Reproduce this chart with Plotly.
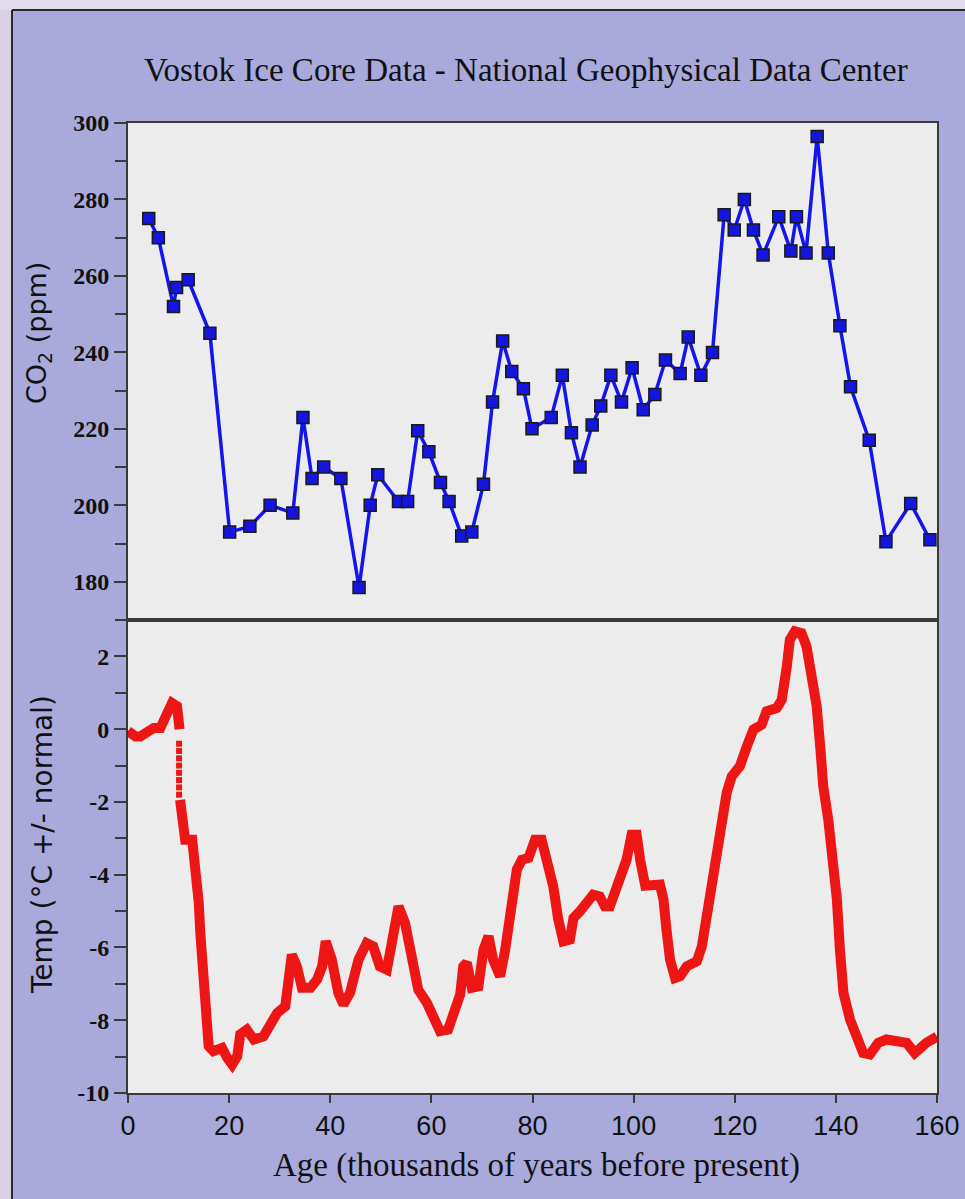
import plotly.graph_objects as go

# CO2 record (ppm) against age in thousands of years before present
co2_age = [4.1, 6.0, 9.0, 9.6, 11.9, 16.2, 20.1, 24.1, 28.1, 32.6, 34.6, 36.4, 38.7, 42.1, 45.7,
           47.9, 49.4, 53.5, 55.3, 57.3, 59.5, 61.8, 63.5, 66.0, 68.0, 70.3, 72.1, 74.1, 75.9, 78.2,
           79.9, 83.7, 85.9, 87.7, 89.4, 91.8, 93.5, 95.5, 97.6, 99.7, 101.9, 104.2, 106.3, 109.2,
           110.8, 113.3, 115.6, 117.9, 119.9, 121.9, 123.7, 125.6, 128.7, 131.1, 132.2, 134.1,
           136.3, 138.5, 140.8, 142.9, 146.6, 149.9, 154.8, 158.6]
co2_ppm = [275, 270, 252, 257, 259, 245, 193, 194.5, 200, 198, 223, 207, 210, 207, 178.5,
           200, 208, 201, 201, 219.5, 214, 206, 201, 192, 193, 205.5, 227, 243, 235, 230.5,
           220, 223, 234, 219, 210, 221, 226, 234, 227, 236, 225, 229, 238, 234.5,
           244, 234, 240, 276, 272, 280, 272, 265.5, 275.5, 266.5, 275.5, 266,
           296.5, 266, 247, 231, 217, 190.5, 200.5, 191]

# Temperature anomaly (deg C); None marks the break where the record is sparse
temp_age = [0, 1.5, 2.4, 3.8, 5.1, 6.4, 7.7, 8.7, 9.7, 10.2, None,
            10.3, 10.7, 11.3, 12.7, 13.3, 14.0, 14.3, 14.6, 15.0, 15.5, 15.95, 16.9, 18.6, 19.6,
            20.6, 21.6, 22.2, 23.5, 24.9, 26.8, 28.1, 29.5, 31.1, 31.8, 32.4, 33.4, 34.4, 36.1,
            37.4, 38.4, 39.1, 40.3, 41.6, 42.6, 43.9, 45.6, 47.2, 48.5, 49.8, 51.2, 52.5, 53.5,
            54.8, 56.1, 57.4, 59.1, 60.7, 61.7, 63.3, 64.7, 65.7, 66.3, 67.0, 68.0, 69.3, 70.3,
            71.3, 72.2, 73.6, 74.6, 75.5, 76.2, 76.9, 77.9, 79.2, 79.8, 80.5, 81.8, 82.8, 84.1,
            85.1, 86.1, 87.4, 88.1, 89.4, 90.7, 92.0, 93.3, 94.3, 95.3, 96.3, 97.6, 98.6, 99.6,
            100.6, 101.3, 102.3, 105.2, 105.9, 106.5, 107.2, 108.2, 109.2, 110.5, 112.5, 113.5,
            114.1, 115.1, 116.1, 116.8, 117.4, 118.4, 119.4, 121.0, 122.4, 123.7, 125.3, 126.3,
            128.3, 129.3, 130.3, 130.9, 131.9, 133.2, 134.2, 135.2, 136.2, 136.9, 137.5, 138.5,
            139.5, 140.2, 140.8, 141.5, 142.8, 144.1, 145.4, 146.7, 148.4, 150.0, 152.0, 154.0,
            155.6, 156.6, 157.9, 160.0]
temp_c = [-0.05, -0.2, -0.2, -0.06, 0.03, 0.03, 0.44, 0.72, 0.63, 0.0, None,
          -1.94, -2.76, -3.04, -3.04, -3.77, -4.78, -5.6, -6.33, -7.16, -8.16, -8.71, -8.85, -8.76, -9.03,
          -9.22, -8.99, -8.39, -8.26, -8.53, -8.44, -8.16, -7.8, -7.62, -6.88, -6.2, -6.52, -7.11, -7.11,
          -6.88, -6.52, -5.83, -6.33, -7.25, -7.57, -7.25, -6.33, -5.88, -5.97, -6.52, -6.61, -5.6, -4.87,
          -5.33, -6.33, -7.16, -7.52, -8.12, -8.3, -8.26, -7.66, -7.29, -6.52, -6.42, -7.11, -7.07, -6.06,
          -5.69, -6.33, -6.79, -6.06, -5.23, -4.5, -3.86, -3.59, -3.54, -3.31, -3.04, -3.04, -3.59, -4.32,
          -5.23, -5.83, -5.78, -5.19, -5.0, -4.78, -4.55, -4.6, -4.87, -4.87, -4.5, -4.05, -3.59, -2.9,
          -2.9, -3.6, -4.3, -4.27, -4.68, -5.51, -6.33, -6.84, -6.79, -6.52, -6.38, -5.97,
          -5.42, -4.68, -3.95, -3.13, -2.4, -1.75, -1.3, -1.02, -0.47, -0.01, 0.12, 0.49,
          0.58, 0.81, 1.73, 2.46, 2.69, 2.64, 2.27, 1.54, 0.63, -0.47, -1.57, -2.49,
          -3.49, -4.68, -6.06, -7.25, -7.98, -8.44, -8.9, -8.94, -8.62, -8.53, -8.58, -8.62,
          -8.9, -8.76, -8.62, -8.45]

# isolated samples on the rapid drop near 10 ka
gap_age = [10.1, 10.1, 10.1, 10.1, 10.1, 10.1, 10.1, 10.1]
gap_temp = [-0.4, -0.6, -0.8, -1.0, -1.2, -1.4, -1.6, -1.8]

x_ticks = [0, 20, 40, 60, 80, 100, 120, 140, 160]
co2_ticks = [180, 200, 220, 240, 260, 280, 300]
temp_ticks = [-10, -8, -6, -4, -2, 0, 2]
temp_tick_text = ["-10", "-8", "-6", "-4", "-2", "0", "2"]

FRAME = "#a9a9db"
PLOT_BG = "#ececec"
AXIS = "#3a3a3a"
SERIF = "Liberation Serif"
SANS = "DejaVu Sans"

fig = go.Figure()

fig.add_trace(go.Scatter(
    x=co2_age, y=co2_ppm, xaxis="x2", yaxis="y",
    mode="lines+markers",
    line=dict(color="#1414ee", width=3.5),
    marker=dict(symbol="square", size=12, color="#1515e0",
                line=dict(color="#1a1a1a", width=1.5)),
    showlegend=False,
))

fig.add_trace(go.Scatter(
    x=temp_age, y=temp_c, xaxis="x", yaxis="y2",
    mode="lines", connectgaps=False,
    line=dict(color="#ee1515", width=10),
    showlegend=False,
))

fig.add_trace(go.Scatter(
    x=gap_age, y=gap_temp, xaxis="x", yaxis="y2",
    mode="markers",
    marker=dict(symbol="square", size=6, color="#ee1515", line=dict(width=0)),
    showlegend=False,
))

split = 0.4876

common_axis = dict(showline=True, linecolor=AXIS, linewidth=2, mirror=True,
                   showgrid=False, zeroline=False, automargin=False)
ytick_font = dict(family=SERIF, size=24, color="#111", weight="bold")

fig.update_layout(
    width=965, height=1199,
    autosize=False,
    margin=dict(l=128, r=28, t=123, b=106, autoexpand=False),
    paper_bgcolor=FRAME,
    plot_bgcolor=PLOT_BG,
    xaxis=dict(**common_axis, range=[0, 160], anchor="y2", domain=[0, 1],
               tickmode="array", tickvals=x_ticks, ticks="outside", ticklen=8,
               tickwidth=2, tickcolor=AXIS,
               tickfont=dict(family="Liberation Sans", size=27, color="#111")),
    xaxis2=dict(**common_axis, range=[0, 160], anchor="y", matches="x",
                showticklabels=False, ticks=""),
    yaxis=dict(**common_axis, domain=[split, 1], range=[170, 300],
               tickmode="array", tickvals=co2_ticks,
               ticks="outside", ticklen=12, tickwidth=2, tickcolor=AXIS,
               minor=dict(dtick=10, tick0=0, ticks="outside", ticklen=11, tickwidth=2,
                          tickcolor=AXIS),
               tickfont=ytick_font),
    yaxis2=dict(**common_axis, domain=[0, split], range=[-10, 3],
                tickmode="array", tickvals=temp_ticks, ticktext=temp_tick_text,
                ticks="outside", ticklen=12, tickwidth=2, tickcolor=AXIS,
                minor=dict(dtick=1, tick0=0, ticks="outside", ticklen=11, tickwidth=2,
                           tickcolor=AXIS),
                tickfont=ytick_font),
)

# px -> paper helpers for the fixed-size canvas
def px_x(px):
    return (px - 128) / 809.0

def px_y(py):
    return (1093 - py) / 970.0

# outer page margin and frame border
fig.add_shape(type="rect", xref="paper", yref="paper",
              x0=px_x(0), x1=px_x(12), y0=px_y(1199), y1=px_y(0),
              fillcolor="#d8d1e4", line=dict(width=0), layer="below")
fig.add_shape(type="rect", xref="paper", yref="paper",
              x0=px_x(0), x1=px_x(965), y0=px_y(10), y1=px_y(0),
              fillcolor="#e0dbea", line=dict(width=0), layer="below")
fig.add_shape(type="line", xref="paper", yref="paper",
              x0=px_x(12), x1=px_x(12), y0=px_y(1199), y1=px_y(10),
              line=dict(color="#2a2a2a", width=2))
fig.add_shape(type="line", xref="paper", yref="paper",
              x0=px_x(12), x1=px_x(965), y0=px_y(10), y1=px_y(10),
              line=dict(color="#2a2a2a", width=2))

fig.add_annotation(text="Vostok Ice Core Data - National Geophysical Data Center",
                   xref="paper", yref="paper", x=px_x(526), y=px_y(70),
                   xanchor="center", yanchor="middle", showarrow=False,
                   font=dict(family=SERIF, size=33, color="#111"))

fig.add_annotation(text="Age (thousands of years before present)",
                   xref="paper", yref="paper", x=px_x(536), y=px_y(1165),
                   xanchor="center", yanchor="middle", showarrow=False,
                   font=dict(family=SERIF, size=33, color="#111"))

fig.add_annotation(text="CO<sub>2</sub> (ppm)",
                   xref="paper", yref="paper", x=px_x(38), y=px_y(333),
                   xanchor="center", yanchor="middle", showarrow=False, textangle=-90,
                   font=dict(family=SANS, size=27, color="#111"))

fig.add_annotation(text="Temp (°C +/- normal)",
                   xref="paper", yref="paper", x=px_x(42), y=px_y(845),
                   xanchor="center", yanchor="middle", showarrow=False, textangle=-90,
                   font=dict(family=SANS, size=28, color="#111"))

fig.write_html("out.html")
